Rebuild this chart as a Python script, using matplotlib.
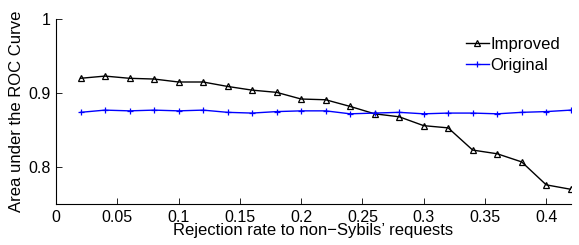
import numpy as np
import matplotlib.pyplot as plt

plt.rcParams['font.family'] = ['Liberation Sans', 'DejaVu Sans']

rates = [0.02, 0.04, 0.06, 0.08, 0.10, 0.12, 0.14, 0.16, 0.18, 0.20, 0.22,
         0.24, 0.26, 0.28, 0.30, 0.32, 0.34, 0.36, 0.38, 0.40, 0.42]
improved = [0.920, 0.923, 0.920, 0.919, 0.915, 0.915, 0.909, 0.904, 0.901, 0.892, 0.891,
            0.882, 0.872, 0.868, 0.856, 0.853, 0.823, 0.818, 0.807, 0.776, 0.770]
original = [0.874, 0.877, 0.876, 0.877, 0.876, 0.877, 0.874, 0.873, 0.875, 0.876, 0.876,
            0.872, 0.873, 0.874, 0.872, 0.873, 0.873, 0.872, 0.874, 0.875, 0.877]
xticks = [0, 0.05, 0.1, 0.15, 0.2, 0.25, 0.3, 0.35, 0.4]
xticklabels = ['0', '0.05', '0.1', '0.15', '0.2', '0.25', '0.3', '0.35', '0.4']
yticks = [0.8, 0.9, 1.0]
yticklabels = ['0.8', '0.9', '1']

fig = plt.figure(figsize=(5.79, 2.45), dpi=100)
ax = fig.add_axes([0.0967, 0.167, 0.889, 0.755])

ax.plot(rates, improved, color='black', marker='^', markersize=4.5,
        markerfacecolor='none', markeredgewidth=0.9, linewidth=1.0, label='Improved')
ax.plot(rates, original, color='#0000ff', marker='+', markersize=4,
        markeredgewidth=0.9, linewidth=1.0, label='Original')

ax.set_xlim(0, 0.42)
ax.set_ylim(0.75, 1.0)
ax.set_xticks(xticks)
ax.set_xticklabels(xticklabels)
ax.set_yticks(yticks)
ax.set_yticklabels(yticklabels)
ax.tick_params(direction='in', length=4, labelsize=11.5, width=0.6, pad=4)
for s in ['top', 'right']:
    ax.spines[s].set_visible(False)
for s in ['left', 'bottom']:
    ax.spines[s].set_linewidth(0.8)

ax.set_xlabel("Rejection rate to non\u2212Sybils\u2019 requests", fontsize=12, labelpad=-1)
ax.set_ylabel("Area under the ROC Curve", fontsize=12, labelpad=3)

ax.legend(loc='upper left', frameon=False, fontsize=12, handlelength=1.4,
          handletextpad=0.1, borderpad=0, borderaxespad=0, labelspacing=0.35,
          bbox_to_anchor=(0.796, 0.905))

fig.savefig('out.png', dpi=100)
